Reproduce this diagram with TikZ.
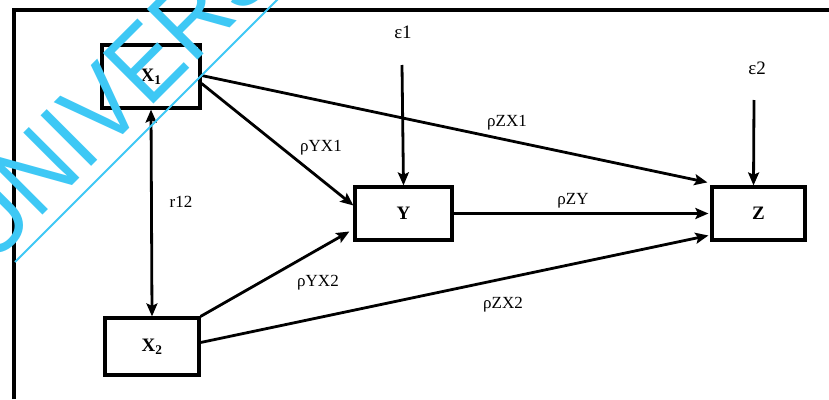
\documentclass[tikz,border=0pt]{standalone}
\usepackage{fontspec}
\setmainfont{Liberation Serif}
\newfontfamily\wmfont{Liberation Sans}
\usetikzlibrary{arrows.meta}
\definecolor{wmcyan}{RGB}{62,200,245}
\begin{document}
\begin{tikzpicture}[x=1pt,y=-1pt,
  varbox/.style={draw, line width=3.2pt, inner sep=0pt,
    font=\bfseries\fontsize{19}{19}\selectfont},
  lbl/.style={inner sep=1pt, font=\fontsize{17}{17}\selectfont},
  errlbl/.style={inner sep=1pt, font=\fontsize{19}{19}\selectfont},
  conn/.style={line width=2.8pt, -{Stealth[length=13pt,width=11pt,inset=2.5pt]}},
  bothconn/.style={line width=2.8pt, {Stealth[length=13pt,width=11pt,inset=2.5pt]}-{Stealth[length=13pt,width=11pt,inset=2.5pt]}}]
\useasboundingbox (0,0) rectangle (829,399);
\fill[white] (0,0) rectangle (829,399);

% outer frame (left and top edges)
\draw[line width=3.2pt] (14,399) -- (14,10) -- (829,10);

% variables
\node[varbox, minimum width=98pt, minimum height=63pt] (X1) at (151,76.5) {X\textsubscript{1}};
\node[varbox, minimum width=94pt, minimum height=57pt] (X2) at (152,346.5) {X\textsubscript{2}};
\node[varbox, minimum width=97pt, minimum height=53pt] (Y) at (403.5,213.5) {Y};
\node[varbox, minimum width=93pt, minimum height=53pt] (Z) at (758.5,213.5) {Z};

% error terms
\node[errlbl] (e1) at (403,32) {ε1};
\node[errlbl] (e2) at (757,68) {ε2};
\coordinate (e1s) at (402,65);
\coordinate (e2s) at (754,100);

% paths
\draw[bothconn] (X1.south) -- (X2.north);
\draw[conn] ([yshift=1pt]X1.east) -- ([xshift=-3pt,yshift=3pt]Z.north west);
\draw[conn] ([yshift=-7pt]X1.east) -- ([yshift=8pt]Y.west);
\draw[conn] (X2.north east) -- ([xshift=-4pt,yshift=-18pt]Y.west);
\draw[conn] ([yshift=4pt]X2.east) -- ([xshift=-2pt,yshift=-22pt]Z.west);
\draw[conn] (Y.east) -- ([xshift=-2pt]Z.west);
\draw[conn] (e1s) -- (Y.north);
\draw[conn] (e2s) -- ([xshift=-5pt]Z.north);

% path labels
\node[lbl] (lzx1) at (507,123) {ρZX1};
\node[lbl] (lyx1) at (321,148) {ρYX1};
\node[lbl] (lr12) at (181,202) {r12};
\node[lbl] (lzy)  at (573,201) {ρZY};
\node[lbl] (lyx2) at (318,283) {ρYX2};
\node[lbl] (lzx2) at (503,305) {ρZX2};

% watermark
\begin{scope}
  \clip (0,0) rectangle (829,399);
  \node[rotate=45, xscale=0.9, anchor=base west, inner sep=0pt, text=wmcyan,
        font=\wmfont\fontsize{104}{104}\selectfont] (wm) at (-10,268) {UNIVERS};
  \draw[wmcyan, line width=2pt] (15,262) -- (290,-13);
\end{scope}
\end{tikzpicture}
\end{document}
